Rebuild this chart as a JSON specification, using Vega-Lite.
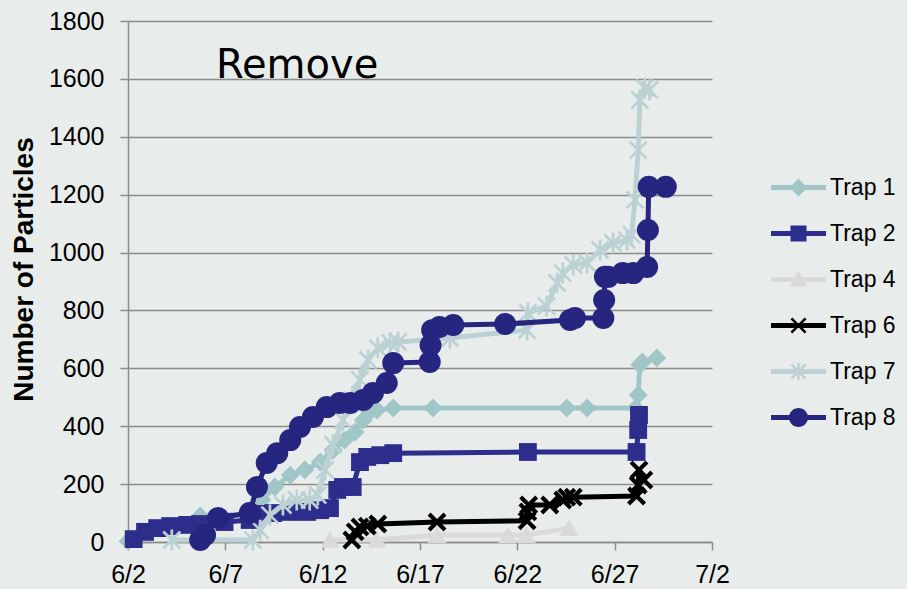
{
  "$schema": "https://vega.github.io/schema/vega-lite/v6.json",
  "width": 584,
  "height": 521,
  "autosize": {"type": "none"},
  "padding": {"left": 128, "top": 21, "right": 195, "bottom": 47},
  "background": "#e8edeb",
  "config": {"view": {"stroke": null}, "font": "Liberation Sans"},
  "datasets": {
    "traps": [
      {"trap": "Trap 1", "date": "2012-06-02T00:00:00Z", "value": 3},
      {"trap": "Trap 1", "date": "2012-06-05T17:00:00Z", "value": 90},
      {"trap": "Trap 1", "date": "2012-06-08T06:00:00Z", "value": 97},
      {"trap": "Trap 1", "date": "2012-06-08T21:00:00Z", "value": 145},
      {"trap": "Trap 1", "date": "2012-06-09T13:00:00Z", "value": 190},
      {"trap": "Trap 1", "date": "2012-06-10T08:00:00Z", "value": 231},
      {"trap": "Trap 1", "date": "2012-06-11T02:00:00Z", "value": 249},
      {"trap": "Trap 1", "date": "2012-06-11T21:00:00Z", "value": 276},
      {"trap": "Trap 1", "date": "2012-06-12T13:00:00Z", "value": 318},
      {"trap": "Trap 1", "date": "2012-06-13T03:00:00Z", "value": 352},
      {"trap": "Trap 1", "date": "2012-06-13T16:00:00Z", "value": 380},
      {"trap": "Trap 1", "date": "2012-06-14T02:00:00Z", "value": 421},
      {"trap": "Trap 1", "date": "2012-06-14T10:00:00Z", "value": 449},
      {"trap": "Trap 1", "date": "2012-06-14T19:00:00Z", "value": 456},
      {"trap": "Trap 1", "date": "2012-06-15T15:00:00Z", "value": 463},
      {"trap": "Trap 1", "date": "2012-06-17T16:00:00Z", "value": 463},
      {"trap": "Trap 1", "date": "2012-06-24T13:00:00Z", "value": 463},
      {"trap": "Trap 1", "date": "2012-06-25T14:00:00Z", "value": 463},
      {"trap": "Trap 1", "date": "2012-06-28T02:00:00Z", "value": 463},
      {"trap": "Trap 1", "date": "2012-06-28T05:00:00Z", "value": 508},
      {"trap": "Trap 1", "date": "2012-06-28T07:00:00Z", "value": 612},
      {"trap": "Trap 1", "date": "2012-06-28T10:00:00Z", "value": 622},
      {"trap": "Trap 1", "date": "2012-06-29T04:00:00Z", "value": 636},

      {"trap": "Trap 2", "date": "2012-06-02T07:00:00Z", "value": 10},
      {"trap": "Trap 2", "date": "2012-06-02T21:00:00Z", "value": 35},
      {"trap": "Trap 2", "date": "2012-06-03T12:00:00Z", "value": 48},
      {"trap": "Trap 2", "date": "2012-06-04T04:00:00Z", "value": 55},
      {"trap": "Trap 2", "date": "2012-06-05T01:00:00Z", "value": 59},
      {"trap": "Trap 2", "date": "2012-06-05T17:00:00Z", "value": 62},
      {"trap": "Trap 2", "date": "2012-06-06T23:00:00Z", "value": 69},
      {"trap": "Trap 2", "date": "2012-06-08T06:00:00Z", "value": 76},
      {"trap": "Trap 2", "date": "2012-06-08T21:00:00Z", "value": 97},
      {"trap": "Trap 2", "date": "2012-06-09T11:00:00Z", "value": 100},
      {"trap": "Trap 2", "date": "2012-06-10T08:00:00Z", "value": 104},
      {"trap": "Trap 2", "date": "2012-06-11T05:00:00Z", "value": 104},
      {"trap": "Trap 2", "date": "2012-06-11T21:00:00Z", "value": 110},
      {"trap": "Trap 2", "date": "2012-06-12T09:00:00Z", "value": 117},
      {"trap": "Trap 2", "date": "2012-06-12T18:00:00Z", "value": 180},
      {"trap": "Trap 2", "date": "2012-06-13T01:00:00Z", "value": 190},
      {"trap": "Trap 2", "date": "2012-06-13T13:00:00Z", "value": 190},
      {"trap": "Trap 2", "date": "2012-06-13T22:00:00Z", "value": 276},
      {"trap": "Trap 2", "date": "2012-06-14T07:00:00Z", "value": 294},
      {"trap": "Trap 2", "date": "2012-06-14T23:00:00Z", "value": 300},
      {"trap": "Trap 2", "date": "2012-06-15T15:00:00Z", "value": 307},
      {"trap": "Trap 2", "date": "2012-06-22T13:00:00Z", "value": 311},
      {"trap": "Trap 2", "date": "2012-06-28T03:00:00Z", "value": 311},
      {"trap": "Trap 2", "date": "2012-06-28T05:00:00Z", "value": 387},
      {"trap": "Trap 2", "date": "2012-06-28T06:00:00Z", "value": 439},

      {"trap": "Trap 4", "date": "2012-06-12T09:00:00Z", "value": 7},
      {"trap": "Trap 4", "date": "2012-06-14T19:00:00Z", "value": 7},
      {"trap": "Trap 4", "date": "2012-06-17T21:00:00Z", "value": 24},
      {"trap": "Trap 4", "date": "2012-06-21T12:00:00Z", "value": 24},
      {"trap": "Trap 4", "date": "2012-06-22T11:00:00Z", "value": 24},
      {"trap": "Trap 4", "date": "2012-06-24T16:00:00Z", "value": 48},

      {"trap": "Trap 6", "date": "2012-06-13T12:00:00Z", "value": 7},
      {"trap": "Trap 6", "date": "2012-06-13T16:00:00Z", "value": 35},
      {"trap": "Trap 6", "date": "2012-06-13T22:00:00Z", "value": 52},
      {"trap": "Trap 6", "date": "2012-06-14T07:00:00Z", "value": 55},
      {"trap": "Trap 6", "date": "2012-06-14T20:00:00Z", "value": 62},
      {"trap": "Trap 6", "date": "2012-06-17T21:00:00Z", "value": 69},
      {"trap": "Trap 6", "date": "2012-06-22T12:00:00Z", "value": 73},
      {"trap": "Trap 6", "date": "2012-06-22T13:00:00Z", "value": 104},
      {"trap": "Trap 6", "date": "2012-06-22T14:00:00Z", "value": 128},
      {"trap": "Trap 6", "date": "2012-06-23T16:00:00Z", "value": 128},
      {"trap": "Trap 6", "date": "2012-06-24T08:00:00Z", "value": 145},
      {"trap": "Trap 6", "date": "2012-06-24T13:00:00Z", "value": 155},
      {"trap": "Trap 6", "date": "2012-06-24T21:00:00Z", "value": 155},
      {"trap": "Trap 6", "date": "2012-06-28T03:00:00Z", "value": 159},
      {"trap": "Trap 6", "date": "2012-06-28T05:00:00Z", "value": 197},
      {"trap": "Trap 6", "date": "2012-06-28T06:00:00Z", "value": 249},
      {"trap": "Trap 6", "date": "2012-06-28T12:00:00Z", "value": 214},

      {"trap": "Trap 7", "date": "2012-06-04T06:00:00Z", "value": 7},
      {"trap": "Trap 7", "date": "2012-06-08T10:00:00Z", "value": 7},
      {"trap": "Trap 7", "date": "2012-06-08T19:00:00Z", "value": 41},
      {"trap": "Trap 7", "date": "2012-06-09T07:00:00Z", "value": 93},
      {"trap": "Trap 7", "date": "2012-06-09T23:00:00Z", "value": 128},
      {"trap": "Trap 7", "date": "2012-06-10T16:00:00Z", "value": 145},
      {"trap": "Trap 7", "date": "2012-06-11T08:00:00Z", "value": 145},
      {"trap": "Trap 7", "date": "2012-06-11T18:00:00Z", "value": 162},
      {"trap": "Trap 7", "date": "2012-06-12T03:00:00Z", "value": 249},
      {"trap": "Trap 7", "date": "2012-06-12T13:00:00Z", "value": 335},
      {"trap": "Trap 7", "date": "2012-06-13T01:00:00Z", "value": 421},
      {"trap": "Trap 7", "date": "2012-06-13T12:00:00Z", "value": 491},
      {"trap": "Trap 7", "date": "2012-06-13T22:00:00Z", "value": 560},
      {"trap": "Trap 7", "date": "2012-06-14T08:00:00Z", "value": 629},
      {"trap": "Trap 7", "date": "2012-06-14T20:00:00Z", "value": 670},
      {"trap": "Trap 7", "date": "2012-06-15T11:00:00Z", "value": 688},
      {"trap": "Trap 7", "date": "2012-06-15T21:00:00Z", "value": 691},
      {"trap": "Trap 7", "date": "2012-06-18T13:00:00Z", "value": 705},
      {"trap": "Trap 7", "date": "2012-06-22T12:00:00Z", "value": 732},
      {"trap": "Trap 7", "date": "2012-06-22T13:00:00Z", "value": 791},
      {"trap": "Trap 7", "date": "2012-06-23T12:00:00Z", "value": 815},
      {"trap": "Trap 7", "date": "2012-06-24T01:00:00Z", "value": 895},
      {"trap": "Trap 7", "date": "2012-06-24T08:00:00Z", "value": 929},
      {"trap": "Trap 7", "date": "2012-06-24T21:00:00Z", "value": 957},
      {"trap": "Trap 7", "date": "2012-06-25T14:00:00Z", "value": 964},
      {"trap": "Trap 7", "date": "2012-06-26T06:00:00Z", "value": 1009},
      {"trap": "Trap 7", "date": "2012-06-26T22:00:00Z", "value": 1033},
      {"trap": "Trap 7", "date": "2012-06-27T15:00:00Z", "value": 1043},
      {"trap": "Trap 7", "date": "2012-06-27T21:00:00Z", "value": 1061},
      {"trap": "Trap 7", "date": "2012-06-28T01:00:00Z", "value": 1182},
      {"trap": "Trap 7", "date": "2012-06-28T05:00:00Z", "value": 1354},
      {"trap": "Trap 7", "date": "2012-06-28T07:00:00Z", "value": 1527},
      {"trap": "Trap 7", "date": "2012-06-28T13:00:00Z", "value": 1568},
      {"trap": "Trap 7", "date": "2012-06-28T19:00:00Z", "value": 1562},

      {"trap": "Trap 8", "date": "2012-06-05T17:00:00Z", "value": 7},
      {"trap": "Trap 8", "date": "2012-06-05T23:00:00Z", "value": 24},
      {"trap": "Trap 8", "date": "2012-06-06T15:00:00Z", "value": 83},
      {"trap": "Trap 8", "date": "2012-06-08T06:00:00Z", "value": 100},
      {"trap": "Trap 8", "date": "2012-06-08T15:00:00Z", "value": 190},
      {"trap": "Trap 8", "date": "2012-06-09T03:00:00Z", "value": 273},
      {"trap": "Trap 8", "date": "2012-06-09T16:00:00Z", "value": 307},
      {"trap": "Trap 8", "date": "2012-06-10T08:00:00Z", "value": 352},
      {"trap": "Trap 8", "date": "2012-06-10T20:00:00Z", "value": 397},
      {"trap": "Trap 8", "date": "2012-06-11T12:00:00Z", "value": 432},
      {"trap": "Trap 8", "date": "2012-06-12T05:00:00Z", "value": 466},
      {"trap": "Trap 8", "date": "2012-06-12T21:00:00Z", "value": 480},
      {"trap": "Trap 8", "date": "2012-06-13T10:00:00Z", "value": 480},
      {"trap": "Trap 8", "date": "2012-06-14T02:00:00Z", "value": 491},
      {"trap": "Trap 8", "date": "2012-06-14T14:00:00Z", "value": 515},
      {"trap": "Trap 8", "date": "2012-06-15T07:00:00Z", "value": 549},
      {"trap": "Trap 8", "date": "2012-06-15T15:00:00Z", "value": 618},
      {"trap": "Trap 8", "date": "2012-06-17T12:00:00Z", "value": 622},
      {"trap": "Trap 8", "date": "2012-06-17T13:00:00Z", "value": 680},
      {"trap": "Trap 8", "date": "2012-06-17T15:00:00Z", "value": 732},
      {"trap": "Trap 8", "date": "2012-06-18T00:00:00Z", "value": 743},
      {"trap": "Trap 8", "date": "2012-06-18T17:00:00Z", "value": 750},
      {"trap": "Trap 8", "date": "2012-06-21T09:00:00Z", "value": 753},
      {"trap": "Trap 8", "date": "2012-06-24T17:00:00Z", "value": 767},
      {"trap": "Trap 8", "date": "2012-06-24T23:00:00Z", "value": 774},
      {"trap": "Trap 8", "date": "2012-06-26T10:00:00Z", "value": 774},
      {"trap": "Trap 8", "date": "2012-06-26T11:00:00Z", "value": 836},
      {"trap": "Trap 8", "date": "2012-06-26T12:00:00Z", "value": 916},
      {"trap": "Trap 8", "date": "2012-06-26T16:00:00Z", "value": 916},
      {"trap": "Trap 8", "date": "2012-06-27T10:00:00Z", "value": 929},
      {"trap": "Trap 8", "date": "2012-06-27T23:00:00Z", "value": 929},
      {"trap": "Trap 8", "date": "2012-06-28T16:00:00Z", "value": 950},
      {"trap": "Trap 8", "date": "2012-06-28T17:00:00Z", "value": 1078},
      {"trap": "Trap 8", "date": "2012-06-28T18:00:00Z", "value": 1227},
      {"trap": "Trap 8", "date": "2012-06-29T15:00:00Z", "value": 1227}
    ],
    "notes": [
      {"label": "Remove", "date": "2012-06-06T12:30:00Z", "value": 1603}
    ]
  },
  "data": {"name": "traps"},
  "encoding": {
    "x": {
      "field": "date",
      "type": "temporal",
      "scale": {"type": "utc", "domain": [{"year": 2012, "month": 6, "date": 2, "utc": true}, {"year": 2012, "month": 7, "date": 2, "utc": true}]},
      "axis": {
        "values": [
          {"year": 2012, "month": 6, "date": 2, "utc": true},
          {"year": 2012, "month": 6, "date": 7, "utc": true},
          {"year": 2012, "month": 6, "date": 12, "utc": true},
          {"year": 2012, "month": 6, "date": 17, "utc": true},
          {"year": 2012, "month": 6, "date": 22, "utc": true},
          {"year": 2012, "month": 6, "date": 27, "utc": true},
          {"year": 2012, "month": 7, "date": 2, "utc": true}
        ],
        "labelExpr": "utcFormat(datum.value, '%-m/%-d')",
        "grid": false,
        "title": null,
        "domainColor": "#8c8c8c",
        "domainWidth": 1.5,
        "tickColor": "#8c8c8c",
        "tickWidth": 1.5,
        "tickSize": 8,
        "labelFont": "Liberation Sans",
        "labelFontSize": 25,
        "labelColor": "#000000",
        "labelPadding": 12,
        "labelOverlap": false,
        "labelFlush": false
      }
    },
    "y": {
      "field": "value",
      "type": "quantitative",
      "scale": {"domain": [0, 1800], "nice": false},
      "axis": {
        "values": [0, 200, 400, 600, 800, 1000, 1200, 1400, 1600, 1800],
        "format": "d",
        "grid": true,
        "gridColor": "#8c8c8c",
        "gridWidth": 1.5,
        "domainColor": "#8c8c8c",
        "domainWidth": 1.5,
        "tickColor": "#8c8c8c",
        "tickWidth": 1.5,
        "tickSize": 8,
        "labelFont": "Liberation Sans",
        "labelFontSize": 25,
        "labelColor": "#000000",
        "labelPadding": 16,
        "title": "Number of Particles",
        "titleFont": "Liberation Sans",
        "titleFontSize": 28,
        "titleFontWeight": "bold",
        "titleColor": "#000000",
        "titleAngle": 270,
        "titleX": -104,
        "titleY": 248,
        "titleAlign": "center",
        "titleBaseline": "middle"
      }
    }
  },
  "layer": [
    {
      "transform": [{"filter": "false"}],
      "mark": {"type": "point", "filled": true, "opacity": 1, "size": 400},
      "encoding": {
        "color": {
          "field": "trap",
          "type": "nominal",
          "scale": {
            "domain": ["Trap 1", "Trap 2", "Trap 4", "Trap 6", "Trap 7", "Trap 8"],
            "range": ["#a0c6c8", "#2d2d8c", "#dadada", "#000000", "#bcd1d4", "#262680"]
          },
          "legend": {
            "title": null,
            "orient": "none",
            "legendX": 643,
            "legendY": 155,
            "direction": "vertical",
            "padding": 0,
            "symbolSize": 400,
            "symbolStrokeWidth": 0,
            "symbolOpacity": 1,
            "symbolOffset": 16,
            "labelOffset": 20,
            "labelFont": "Liberation Sans",
            "labelFontSize": 23,
            "labelColor": "#000000",
            "rowPadding": 22
          }
        },
        "shape": {
          "field": "trap",
          "type": "nominal",
          "scale": {
            "domain": ["Trap 1", "Trap 2", "Trap 4", "Trap 6", "Trap 7", "Trap 8"],
            "range": [
              "M-2.75,-0.25H2.75V0.25H-2.75Z M0,-0.9L0.9,0L0,0.9L-0.9,0Z",
              "M-2.75,-0.25H2.75V0.25H-2.75Z M-0.8,-0.8H0.8V0.8H-0.8Z",
              "M-2.75,-0.25H2.75V0.25H-2.75Z M0,-0.9L0.9,0.7H-0.9Z",
              "M-2.75,-0.25H2.75V0.25H-2.75Z M-0.8,-0.62L-0.62,-0.8L0.8,0.62L0.62,0.8Z M-0.8,0.62L0.62,-0.8L0.8,-0.62L-0.62,0.8Z",
              "M-2.75,-0.25H2.75V0.25H-2.75Z M-0.8,-0.62L-0.62,-0.8L0.8,0.62L0.62,0.8Z M-0.8,0.62L0.62,-0.8L0.8,-0.62L-0.62,0.8Z M-0.12,-0.85H0.12V0.85H-0.12Z",
              "M-2.75,-0.25H2.75V0.25H-2.75Z M-0.95,0A0.95,0.95 0 1,1 0.95,0A0.95,0.95 0 1,1 -0.95,0Z"
            ]
          }
        }
      }
    },
    {
      "transform": [{"filter": "datum.trap === 'Trap 1'"}],
      "layer": [
        {"mark": {"type": "line", "color": "#a0c6c8", "strokeWidth": 5, "strokeJoin": "round", "strokeCap": "round"}, "encoding": {}},
        {"mark": {"type": "point", "filled": true, "color": "#a0c6c8", "opacity": 1, "strokeWidth": 0, "size": 440, "shape": "M0,-0.9L0.9,0L0,0.9L-0.9,0Z"}, "encoding": {}}
      ]
    },
    {
      "transform": [{"filter": "datum.trap === 'Trap 2'"}],
      "layer": [
        {"mark": {"type": "line", "color": "#2d2d8c", "strokeWidth": 5, "strokeJoin": "round", "strokeCap": "round"}, "encoding": {}},
        {"mark": {"type": "point", "filled": true, "color": "#2d2d8c", "opacity": 1, "strokeWidth": 0, "size": 440, "shape": "M-0.85,-0.85H0.85V0.85H-0.85Z"}, "encoding": {}}
      ]
    },
    {
      "transform": [{"filter": "datum.trap === 'Trap 4'"}],
      "layer": [
        {"mark": {"type": "line", "color": "#dadada", "strokeWidth": 5, "strokeJoin": "round", "strokeCap": "round"}, "encoding": {}},
        {"mark": {"type": "point", "filled": true, "color": "#dadada", "opacity": 1, "strokeWidth": 0, "size": 440, "shape": "M0,-0.85L0.9,0.75H-0.9Z"}, "encoding": {}}
      ]
    },
    {
      "transform": [{"filter": "datum.trap === 'Trap 6'"}],
      "layer": [
        {"mark": {"type": "line", "color": "#000000", "strokeWidth": 5, "strokeJoin": "round", "strokeCap": "round"}, "encoding": {}},
        {"mark": {"type": "point", "filled": true, "color": "#000000", "opacity": 1, "strokeWidth": 0, "size": 440, "shape": "M-0.9,-0.62L-0.62,-0.9L0.9,0.62L0.62,0.9Z M-0.9,0.62L0.62,-0.9L0.9,-0.62L-0.62,0.9Z"}, "encoding": {}}
      ]
    },
    {
      "transform": [{"filter": "datum.trap === 'Trap 7'"}],
      "layer": [
        {"mark": {"type": "line", "color": "#bcd1d4", "strokeWidth": 5, "strokeJoin": "round", "strokeCap": "round"}, "encoding": {}},
        {"mark": {"type": "point", "filled": true, "color": "#bcd1d4", "opacity": 1, "strokeWidth": 0, "size": 440, "shape": "M-0.9,-0.72L-0.72,-0.9L0.9,0.72L0.72,0.9Z M-0.9,0.72L0.72,-0.9L0.9,-0.72L-0.72,0.9Z M-0.13,-1H0.13V1H-0.13Z"}, "encoding": {}}
      ]
    },
    {
      "transform": [{"filter": "datum.trap === 'Trap 8'"}],
      "layer": [
        {"mark": {"type": "line", "color": "#262680", "strokeWidth": 5, "strokeJoin": "round", "strokeCap": "round"}, "encoding": {}},
        {"mark": {"type": "point", "filled": true, "color": "#262680", "opacity": 1, "strokeWidth": 0, "size": 484, "shape": "circle"}, "encoding": {}}
      ]
    },
    {
      "data": {"name": "notes"},
      "mark": {"type": "text", "font": "DejaVu Sans", "fontSize": 40, "align": "left", "baseline": "alphabetic", "color": "#000000"},
      "encoding": {
        "text": {"field": "label"}
      }
    }
  ]
}
